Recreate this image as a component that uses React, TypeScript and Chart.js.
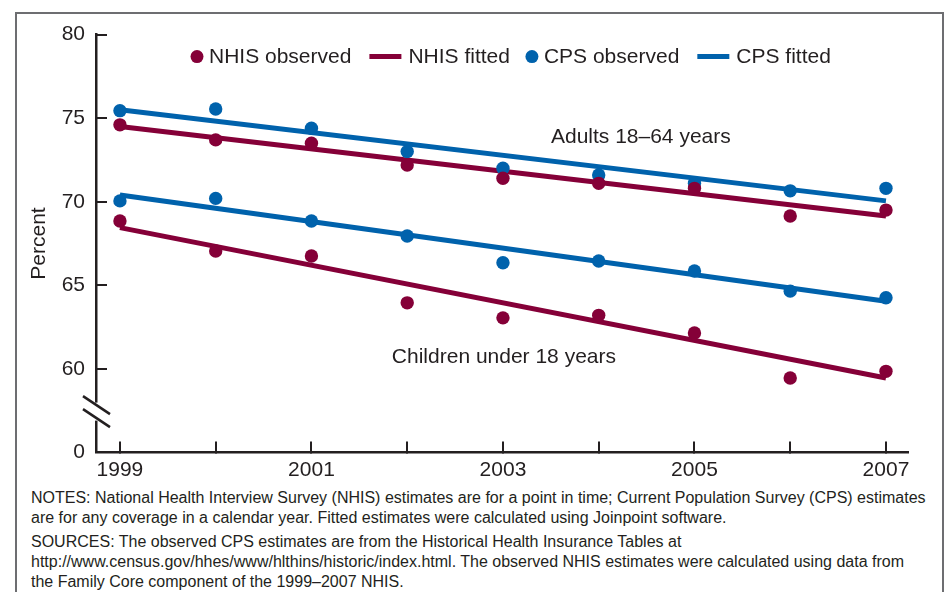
import React, { useEffect, useRef } from 'react';
import { Chart, registerables } from 'chart.js';

Chart.register(...registerables);

// ---- Data ----
const years = [1999, 2000, 2001, 2002, 2003, 2004, 2005, 2006, 2007];
const nhisAdultsObserved = [74.6, 73.7, 73.5, 72.2, 71.4, 71.1, 70.8, 69.15, 69.5];
const cpsAdultsObserved = [75.45, 75.55, 74.4, 73.0, 72.0, 71.6, 71.1, 70.65, 70.8];
const nhisChildrenObserved = [68.85, 67.05, 66.75, 63.95, 63.05, 63.2, 62.15, 59.45, 59.85];
const cpsChildrenObserved = [70.05, 70.2, 68.85, 67.95, 66.35, 66.45, 65.85, 64.65, 64.25];

const fitYears = [1999, 2007];
const nhisAdultsFitted = [74.5, 69.15];
const cpsAdultsFitted = [75.5, 70.05];
const nhisChildrenFitted = [68.45, 59.45];
const cpsChildrenFitted = [70.4, 64.05];

const yTickValues = [55, 60, 65, 70, 75, 80];
const yTickLabels = ['0', '60', '65', '70', '75', '80'];
const xLabelYears = [1999, 2001, 2003, 2005, 2007];

const legendLabels = ['NHIS observed', 'NHIS fitted', 'CPS observed', 'CPS fitted'];
const annotationTexts = ['Adults 18\u201364 years', 'Children under 18 years'];
const annotationX = [2004.44, 2003.01];
const annotationY = [73.88, 60.7];

// ---- Styles ----
const NHIS_COLOR = '#850038';
const CPS_COLOR = '#0062ac';
const INK = '#231f20';
const FONT = '"Liberation Sans", Arial, Helvetica, sans-serif';

const pts = (xs: number[], ys: number[]) => xs.map((x, i) => ({ x, y: ys[i] }));

export default function App() {
  const ref = useRef<HTMLCanvasElement>(null);

  useEffect(() => {
    if (!ref.current) return;

    const decorPlugin = {
      id: 'decor',
      afterDraw(chart: any) {
        const ctx = chart.ctx as CanvasRenderingContext2D;
        const xs = chart.scales.x;
        const ys = chart.scales.y;
        const area = chart.chartArea;
        ctx.save();

        // axis break
        const axisX = area.left;
        const yc = (ys.getPixelForValue(55) + ys.getPixelForValue(60)) / 2 + 1;
        ctx.fillStyle = '#ffffff';
        ctx.fillRect(axisX - 3, yc - 9, 6, 18);
        ctx.strokeStyle = INK;
        ctx.lineWidth = 2.5;
        for (const off of [-6.5, 6.5]) {
          ctx.beginPath();
          ctx.moveTo(axisX - 13, yc + off - 9);
          ctx.lineTo(axisX + 14, yc + off + 9);
          ctx.stroke();
        }

        // legend
        ctx.font = `21px ${FONT}`;
        ctx.textBaseline = 'middle';
        ctx.textAlign = 'left';
        const ly = area.top + 22;
        let x = area.left + 101;
        const colors = [NHIS_COLOR, NHIS_COLOR, CPS_COLOR, CPS_COLOR];
        legendLabels.forEach((label, i) => {
          const isPoint = i % 2 === 0;
          ctx.fillStyle = colors[i];
          ctx.strokeStyle = colors[i];
          let textX;
          if (isPoint) {
            ctx.beginPath();
            ctx.arc(x, ly, 6.5, 0, Math.PI * 2);
            ctx.fill();
            textX = x + 12;
          } else {
            ctx.lineWidth = 5;
            ctx.beginPath();
            ctx.moveTo(x, ly);
            ctx.lineTo(x + 32, ly);
            ctx.stroke();
            textX = x + 39;
          }
          ctx.fillStyle = INK;
          ctx.fillText(label, textX, ly + 1);
          const w = ctx.measureText(label).width;
          x = textX + w + (isPoint ? 18 : 22);
        });

        // annotations
        ctx.textAlign = 'center';
        ctx.fillStyle = INK;
        annotationTexts.forEach((t, i) => {
          ctx.fillText(t, xs.getPixelForValue(annotationX[i]), ys.getPixelForValue(annotationY[i]));
        });
        ctx.restore();
      },
    };

    const chart = new Chart(ref.current, {
      type: 'scatter',
      data: {
        datasets: [
          { label: 'NHIS observed adults', data: pts(years, nhisAdultsObserved), backgroundColor: NHIS_COLOR, pointRadius: 6.7, pointBorderWidth: 0, order: 0 },
          { label: 'NHIS observed children', data: pts(years, nhisChildrenObserved), backgroundColor: NHIS_COLOR, pointRadius: 6.7, pointBorderWidth: 0, order: 0 },
          { label: 'CPS observed adults', data: pts(years, cpsAdultsObserved), backgroundColor: CPS_COLOR, pointRadius: 6.7, pointBorderWidth: 0, order: 0 },
          { label: 'CPS observed children', data: pts(years, cpsChildrenObserved), backgroundColor: CPS_COLOR, pointRadius: 6.7, pointBorderWidth: 0, order: 0 },
          { label: 'NHIS fitted adults', data: pts(fitYears, nhisAdultsFitted), showLine: true, borderColor: NHIS_COLOR, borderWidth: 5, pointRadius: 0, order: 1 },
          { label: 'NHIS fitted children', data: pts(fitYears, nhisChildrenFitted), showLine: true, borderColor: NHIS_COLOR, borderWidth: 5, pointRadius: 0, order: 1 },
          { label: 'CPS fitted adults', data: pts(fitYears, cpsAdultsFitted), showLine: true, borderColor: CPS_COLOR, borderWidth: 5, pointRadius: 0, order: 1 },
          { label: 'CPS fitted children', data: pts(fitYears, cpsChildrenFitted), showLine: true, borderColor: CPS_COLOR, borderWidth: 5, pointRadius: 0, order: 1 },
        ],
      },
      options: {
        responsive: false,
        animation: false,
        devicePixelRatio: 1,
        layout: { padding: { left: 16, top: 34, right: 42, bottom: 0 } },
        plugins: { legend: { display: false }, tooltip: { enabled: false } },
        scales: {
          x: {
            type: 'linear',
            min: 1998.75,
            max: 2007.23,
            afterFit: (s: any) => { s.height = 29; },
            afterBuildTicks: (s: any) => { s.ticks = years.map((v) => ({ value: v })); },
            border: { display: true, color: INK, width: 2.5 },
            grid: { display: true, drawOnChartArea: false, drawTicks: true, tickLength: -11, color: INK, lineWidth: 2 },
            ticks: {
              autoSkip: false,
              maxRotation: 0,
              padding: 16,
              color: INK,
              font: { family: FONT, size: 21 },
              callback: (v: any) => (xLabelYears.includes(Number(v)) ? String(v) : ''),
            },
          },
          y: {
            type: 'linear',
            min: 55,
            max: 80,
            afterFit: (s: any) => { s.width = 80; },
            afterBuildTicks: (s: any) => { s.ticks = yTickValues.map((v) => ({ value: v })); },
            border: { display: true, color: INK, width: 2.5 },
            grid: { display: true, drawOnChartArea: false, drawTicks: true, tickLength: -11, color: INK, lineWidth: 2 },
            title: { display: true, text: 'Percent', color: INK, font: { family: FONT, size: 21 }, padding: { top: 11, bottom: 0 } },
            ticks: {
              padding: 22,
              color: INK,
              font: { family: FONT, size: 21 },
              callback: (v: any) => {
                const i = yTickValues.indexOf(Number(v));
                return i >= 0 ? yTickLabels[i] : '';
              },
            },
          },
        },
      },
      plugins: [decorPlugin],
    } as any);

    return () => chart.destroy();
  }, []);

  const noteStyle: React.CSSProperties = {
    fontFamily: FONT,
    fontSize: 16,
    lineHeight: '20px',
    color: INK,
    whiteSpace: 'nowrap',
  };

  return (
    <div style={{ position: 'absolute', left: 0, top: 0, width: 950, height: 592, overflow: 'hidden', background: '#ffffff' }}>
      <div style={{ position: 'absolute', left: 15, top: 12, width: 925, height: 620, border: '2px solid #6d6e71' }} />
      <canvas ref={ref} width={950} height={487} style={{ position: 'absolute', left: 0, top: 0, width: 950, height: 487 }} />
      <div style={{ position: 'absolute', left: 31, top: 488 }}>
        <div style={noteStyle}>
          NOTES: National Health Interview Survey (NHIS) estimates are for a point in time; Current Population Survey (CPS) estimates
          <br />
          are for any coverage in a calendar year. Fitted estimates were calculated using Joinpoint software.
        </div>
        <div style={{ ...noteStyle, marginTop: 4 }}>
          SOURCES: The observed CPS estimates are from the Historical Health Insurance Tables at
          <br />
          http://www.census.gov/hhes/www/hlthins/historic/index.html. The observed NHIS estimates were calculated using data from
          <br />
          the Family Core component of the 1999{'\u2013'}2007 NHIS.
        </div>
      </div>
    </div>
  );
}
